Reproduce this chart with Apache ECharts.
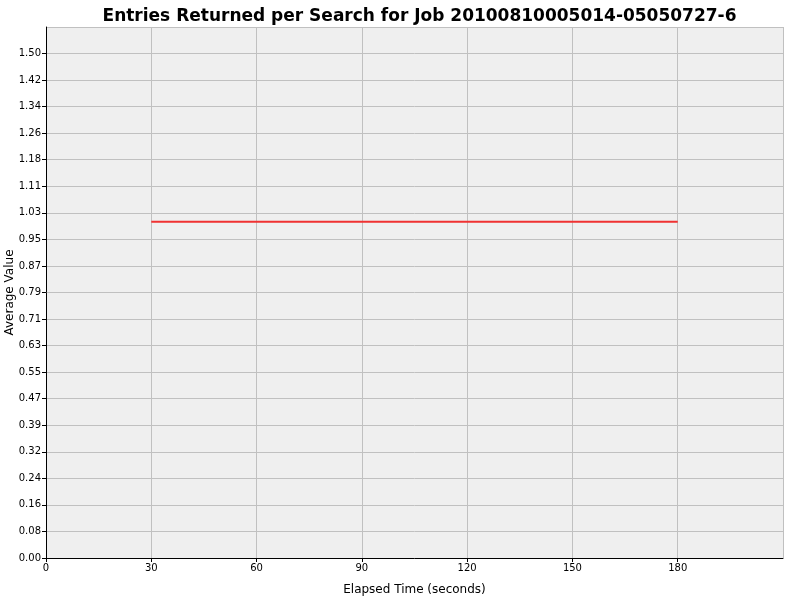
<!DOCTYPE html>
<html>
<head>
<meta charset="utf-8">
<script src="https://cdn.jsdelivr.net/npm/echarts@6/dist/echarts.min.js"></script>
<style>
    html, body { margin: 0; padding: 0; background: #ffffff; }
    #chart { width: 800px; height: 600px; }
</style>
</head>
<body>
<div id="chart"></div>
<script>
// elapsed seconds and average entries returned at each sample
const elapsed = [30, 60, 90, 120, 150, 180];
const avgEntries = [1, 1, 1, 1, 1, 1];

// y axis in the original steps by 1.5/19, shown to two decimals
const yStep = 1.5 / 19;
const yMax = 20 * yStep;
const xMax = 210;

let chart = echarts.init(document.getElementById("chart"));

let option = {
    backgroundColor: '#ffffff',
    animation: false,
    title: {
        text: 'Entries Returned per Search for Job 20100810005014-05050727-6',
        left: 414.5,
        textAlign: 'center',
        top: 3,
        textStyle: {
            fontFamily: 'DejaVu Sans',
            fontWeight: 'bold',
            fontSize: 17,
            color: '#000000'
        }
    },
    grid: {
        left: 46,
        right: 17,
        top: 27,
        bottom: 42,
        containLabel: false,
        outerBoundsMode: 'none',
        show: true,
        backgroundColor: '#efefef',
        borderWidth: 0
    },
    xAxis: {
        type: 'value',
        min: 0,
        max: xMax,
        interval: 30,
        name: 'Elapsed Time (seconds)',
        nameLocation: 'middle',
        nameGap: 26,
        nameMoveOverlap: false,
        nameTextStyle: { fontFamily: 'DejaVu Sans', fontSize: 12, color: '#000000' },
        axisLine: { show: true, lineStyle: { color: '#000000', width: 1 } },
        axisTick: { show: true, length: 4, lineStyle: { color: '#000000' } },
        axisLabel: {
            showMaxLabel: false,
            margin: 5,
            fontFamily: 'DejaVu Sans',
            fontSize: 10,
            color: '#000000'
        },
        splitLine: { show: true, lineStyle: { color: '#c0c0c0', width: 1 } }
    },
    yAxis: {
        type: 'value',
        min: 0,
        max: yMax,
        interval: yStep,
        name: 'Average Value',
        nameLocation: 'middle',
        nameGap: 30,
        nameMoveOverlap: false,
        nameTextStyle: { fontFamily: 'DejaVu Sans', fontSize: 12, color: '#000000' },
        axisLine: { show: true, lineStyle: { color: '#000000', width: 1 } },
        axisTick: { show: true, length: 4, lineStyle: { color: '#000000' } },
        axisLabel: {
            showMaxLabel: false,
            margin: 5,
            fontFamily: 'DejaVu Sans',
            fontSize: 10,
            color: '#000000',
            formatter: (v) => v.toFixed(2)
        },
        splitLine: { show: true, lineStyle: { color: '#c0c0c0', width: 1 } }
    },
    series: [
        {
            type: 'line',
            data: elapsed.map((x, i) => [x, avgEntries[i]]),
            showSymbol: false,
            lineStyle: { color: '#f03232', width: 2 }
        }
    ]
};

chart.setOption(option);
</script>
</body>
</html>
